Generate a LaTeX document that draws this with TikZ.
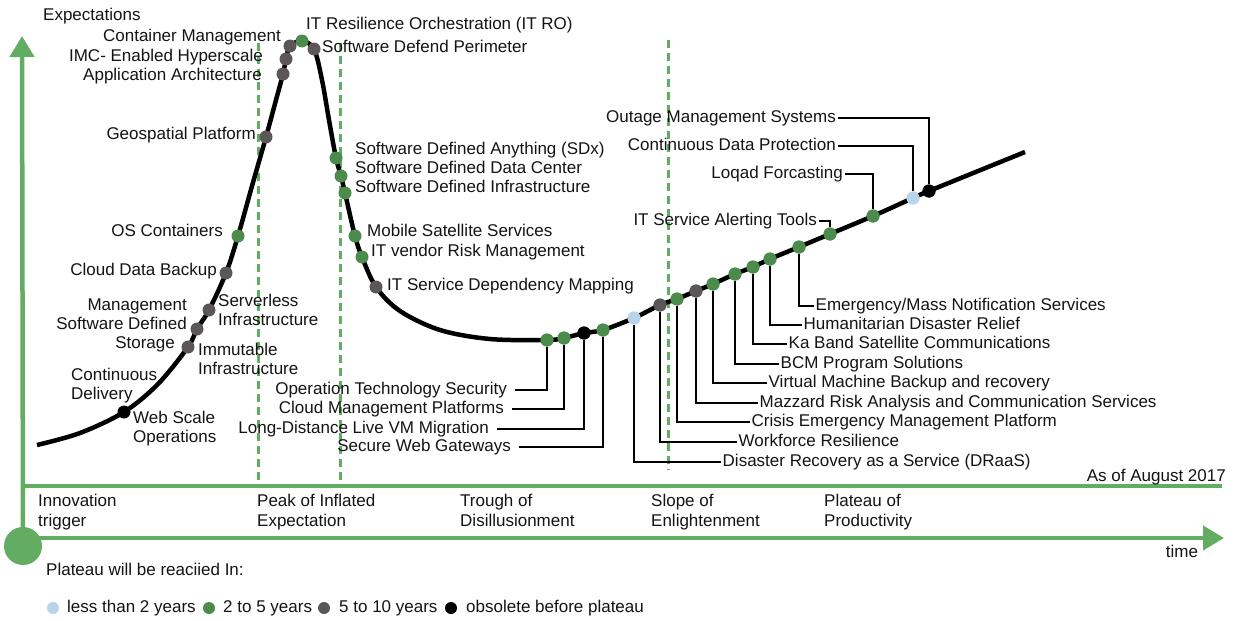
\documentclass[tikz,border=0pt]{standalone}
\usepackage{fontspec}
\setmainfont{Liberation Sans}
\usetikzlibrary{arrows.meta}
\definecolor{axisgreen}{RGB}{98,173,98}
\definecolor{dotgreen}{RGB}{75,139,75}
\definecolor{dotgrey}{RGB}{92,87,87}
\definecolor{dotblue}{RGB}{184,212,234}
\definecolor{ink}{RGB}{20,20,20}
\begin{document}
\begin{tikzpicture}[x=1pt,y=-1pt,
  txt/.style={font=\fontsize{17}{20}\selectfont, text height=12.5pt, text depth=3.5pt, inner ysep=0pt, inner xsep=0pt, text=ink},
  dotg/.style={circle, minimum size=13pt, inner sep=0pt, fill=dotgreen},
  dotr/.style={circle, minimum size=13pt, inner sep=0pt, fill=dotgrey},
  dotb/.style={circle, minimum size=13pt, inner sep=0pt, fill=dotblue},
  dotk/.style={circle, minimum size=13pt, inner sep=0pt, fill=black},
  legdot/.style={circle, minimum size=12pt, inner sep=0pt},
  leader/.style={line width=2.8pt, black},
  curveline/.style={line width=4.5pt, black},
  guide/.style={axisgreen, line width=3pt, dash pattern=on 8pt off 5pt},
  axisline/.style={axisgreen, line width=4.5pt},
  tipstyle/.style={-{Triangle[width=24pt,length=21pt]}}
]
\fill[white] (0,0) rectangle (1235,621);
\useasboundingbox (0,0) rectangle (1235,621);

% axes
\node[circle, fill=axisgreen, minimum size=38pt, inner sep=0pt] (origin) at (23,546) {};
\coordinate (ytop) at (22,36);
\coordinate (xbase) at (22,538);
\coordinate (xend) at (1224,538);
\coordinate (hl) at (22,486);
\coordinate (hr) at (1222,486);
\draw[axisline, tipstyle] (origin.center) -- (ytop);
\draw[axisline, tipstyle] (xbase) -- (xend);
\draw[axisgreen, line width=3.5pt] (hl) -- (hr);

% dashed guides
\coordinate (g1t) at (258,43); \coordinate (g1b) at (258,486);
\coordinate (g2t) at (340,43); \coordinate (g2b) at (340,486);
\coordinate (g3t) at (668,40); \coordinate (g3b) at (668,470);
\draw[guide] (g1t) -- (g1b);
\draw[guide] (g2t) -- (g2b);
\draw[guide] (g3t) -- (g3b);

% hype curve
\draw[curveline] plot[smooth, tension=0.55] coordinates {
(37,445) (80,433) (124,412) (158,384) (188,347) (197,329) (209,310) (226,273)
(238,236) (252,186) (266,137) (276,100) (283,74) (286,59) (290,46) (302,41)
(314,49) (322,80) (329,120) (336,158) (341,176) (345,193) (355,236) (362,257)
(376,287) (400,311) (440,330) (490,339) (547,340) (564,338) (584,333) (603,330)
(634,318) (660,305) (677,299) (696,291) (713,284) (735,274) (753,267) (770,259)
(799,247) (830,234) (873,216) (913,198) (929,191) (1025,152)};

% dots
\node[dotk] (dWS) at (124,412) {};
\node[dotr] (dIM) at (188,347) {};
\node[dotr] (dSD) at (197,329) {};
\node[dotr] (dSV) at (209,310) {};
\node[dotr] (dCB) at (226,273) {};
\node[dotg] (dOS) at (238,236) {};
\node[dotr] (dGP) at (266,137) {};
\node[dotr] (dAA) at (283,74) {};
\node[dotr] (dIMC) at (286,59) {};
\node[dotr] (dCM) at (290,46) {};
\node[dotg] (dRO) at (302,41) {};
\node[dotr] (dSP) at (314,49) {};
\node[dotg] (dSDx) at (336,158) {};
\node[dotg] (dDC) at (341,176) {};
\node[dotg] (dSI) at (345,193) {};
\node[dotg] (dMS) at (355,236) {};
\node[dotg] (dVR) at (362,257) {};
\node[dotr] (dDM) at (376,287) {};
\node[dotg] (dOT) at (547,340) {};
\node[dotg] (dCP) at (564,338) {};
\node[dotk] (dLD) at (584,333) {};
\node[dotg] (dSW) at (603,330) {};
\node[dotb] (dDR) at (634,318) {};
\node[dotr] (dWR) at (660,305) {};
\node[dotg] (dCE) at (677,299) {};
\node[dotr] (dMZ) at (696,291) {};
\node[dotg] (dVM) at (713,284) {};
\node[dotg] (dBCM) at (735,274) {};
\node[dotg] (dKA) at (753,267) {};
\node[dotg] (dHD) at (770,259) {};
\node[dotg] (dEM) at (799,247) {};
\node[dotg] (dSA) at (830,234) {};
\node[dotg] (dLF) at (873,216) {};
\node[dotb] (dCD) at (913,198) {};
\node[dotk] (dOM) at (929,191) {};

% free labels
\node[txt, anchor=west] (tExp) at (43,16) {Expectations};
\node[txt, anchor=east] (tCM) at (281,37) {Container Management};
\node[txt, anchor=east] (tIMC) at (263,57) {IMC- Enabled Hyperscale};
\node[txt, anchor=east] (tAA) at (262,76) {Application Architecture};
\node[txt, anchor=east] (tGP) at (256,135) {Geospatial Platform};
\node[txt, anchor=west] (tRO) at (306,25) {IT Resilience Orchestration (IT RO)};
\node[txt, anchor=west] (tSP) at (322,48) {Software Defend Perimeter};
\node[txt, anchor=west] (tSDx) at (355,150) {Software Defined Anything (SDx)};
\node[txt, anchor=west] (tDC) at (355,169) {Software Defined Data Center};
\node[txt, anchor=west] (tSI) at (355,188) {Software Defined Infrastructure};
\node[txt, anchor=east] (tOS) at (223,232) {OS Containers};
\node[txt, anchor=east] (tCB) at (217,271) {Cloud Data Backup};
\node[txt, anchor=east] (tSD1) at (187,306) {Management};
\node[txt, anchor=east] (tSD2) at (187,325) {Software Defined};
\node[txt, anchor=east] (tSD3) at (175,344) {Storage};
\node[txt, anchor=west] (tSV1) at (218,302) {Serverless};
\node[txt, anchor=west] (tSV2) at (218,321) {Infrastructure};
\node[txt, anchor=west] (tIM1) at (198,351) {Immutable};
\node[txt, anchor=west] (tIM2) at (198,370) {Infrastructure};
\node[txt, anchor=west] (tCD1) at (71,376) {Continuous};
\node[txt, anchor=west] (tCD2) at (71,395) {Delivery};
\node[txt, anchor=west] (tWS1) at (133,419) {Web Scale};
\node[txt, anchor=west] (tWS2) at (133,438) {Operations};
\node[txt, anchor=west] (tMS) at (367,232) {Mobile Satellite Services};
\node[txt, anchor=west] (tVR) at (371,252) {IT vendor Risk Management};
\node[txt, anchor=west] (tDM) at (387,286) {IT Service Dependency Mapping};

% leader labels, lower left
\node[txt, anchor=east, inner xsep=8pt] (tOT) at (515,390) {Operation Technology Security};
\node[txt, anchor=east, inner xsep=8pt] (tCP) at (512,409) {Cloud Management Platforms};
\node[txt, anchor=east, inner xsep=8pt] (tLD) at (497,429) {Long-Distance Live VM Migration};
\node[txt, anchor=east, inner xsep=8pt] (tSW) at (519,447) {Secure Web Gateways};
\draw[leader] (dOT) |- (tOT);
\draw[leader] (dCP) |- (tCP);
\draw[leader] (dLD) |- (tLD);
\draw[leader] (dSW) |- (tSW);

% leader labels, lower right
\node[txt, anchor=west, inner xsep=1.5pt] (tDR) at (721,462) {Disaster Recovery as a Service (DRaaS)};
\node[txt, anchor=west, inner xsep=1.5pt] (tWR) at (737,442) {Workforce Resilience};
\node[txt, anchor=west, inner xsep=1.5pt] (tCE) at (750,422) {Crisis Emergency Management Platform};
\node[txt, anchor=west, inner xsep=1.5pt] (tMZ) at (758,403) {Mazzard Risk Analysis and Communication Services};
\node[txt, anchor=west, inner xsep=1.5pt] (tVM) at (767,383) {Virtual Machine Backup and recovery};
\node[txt, anchor=west, inner xsep=1.5pt] (tBCM) at (779,364) {BCM Program Solutions};
\node[txt, anchor=west, inner xsep=1.5pt] (tKA) at (787,344) {Ka Band Satellite Communications};
\node[txt, anchor=west, inner xsep=1.5pt] (tHD) at (802,325) {Humanitarian Disaster Relief};
\node[txt, anchor=west, inner xsep=1.5pt] (tEM) at (814,306) {Emergency/Mass Notification Services};
\draw[leader] (dDR) |- (tDR);
\draw[leader] (dWR) |- (tWR);
\draw[leader] (dCE) |- (tCE);
\draw[leader] (dMZ) |- (tMZ);
\draw[leader] (dVM) |- (tVM);
\draw[leader] (dBCM) |- (tBCM);
\draw[leader] (dKA) |- (tKA);
\draw[leader] (dHD) |- (tHD);
\draw[leader] (dEM) |- (tEM);

% leader labels, upper right
\node[txt, anchor=east, inner xsep=2pt] (tSA) at (819,221) {IT Service Alerting Tools};
\node[txt, anchor=east, inner xsep=2pt] (tLF) at (845,174) {Loqad Forcasting};
\node[txt, anchor=east, inner xsep=2pt] (tCDP) at (838,146) {Continuous Data Protection};
\node[txt, anchor=east, inner xsep=2pt] (tOM) at (838,118) {Outage Management Systems};
\draw[leader] (dSA) |- (tSA);
\draw[leader] (dLF) |- (tLF);
\draw[leader] (dCD) |- (tCDP);
\draw[leader] (dOM) |- (tOM);

% redraw dots over leaders
\foreach \n/\s in {dOT/dotg,dCP/dotg,dLD/dotk,dSW/dotg,dDR/dotb,dWR/dotr,dCE/dotg,dMZ/dotr,dVM/dotg,dBCM/dotg,dKA/dotg,dHD/dotg,dEM/dotg,dSA/dotg,dLF/dotg,dCD/dotb,dOM/dotk}
  \node[\s] at (\n.center) {};

% axis texts
\node[txt, anchor=east] (tAsOf) at (1226,477) {As of August 2017};
\node[txt] (tTime) at (1182,553) {time};
\node[txt, anchor=west] (tP1a) at (38,502) {Innovation};
\node[txt, anchor=west] (tP1b) at (38,522) {trigger};
\node[txt, anchor=west] (tP2a) at (257,502) {Peak of Inflated};
\node[txt, anchor=west] (tP2b) at (257,522) {Expectation};
\node[txt, anchor=west] (tP3a) at (460,502) {Trough of};
\node[txt, anchor=west] (tP3b) at (460,522) {Disillusionment};
\node[txt, anchor=west] (tP4a) at (651,502) {Slope of};
\node[txt, anchor=west] (tP4b) at (651,522) {Enlightenment};
\node[txt, anchor=west] (tP5a) at (824,502) {Plateau of};
\node[txt, anchor=west] (tP5b) at (824,522) {Productivity};

% legend
\node[txt, anchor=west] (tLeg) at (46,571) {Plateau will be reaciied In:};
\node[legdot, fill=dotblue] (lb) at (53,608) {};
\node[txt, anchor=west] (tlb) at (67,608) {less than 2 years};
\node[legdot, fill=dotgreen] (lg) at (209,608) {};
\node[txt, anchor=west] (tlg) at (223,608) {2 to 5 years};
\node[legdot, fill=dotgrey] (lr) at (324,608) {};
\node[txt, anchor=west] (tlr) at (339,608) {5 to 10 years};
\node[legdot, fill=black] (lk) at (451,608) {};
\node[txt, anchor=west] (tlk) at (466,608) {obsolete before plateau};
\end{tikzpicture}
\end{document}
